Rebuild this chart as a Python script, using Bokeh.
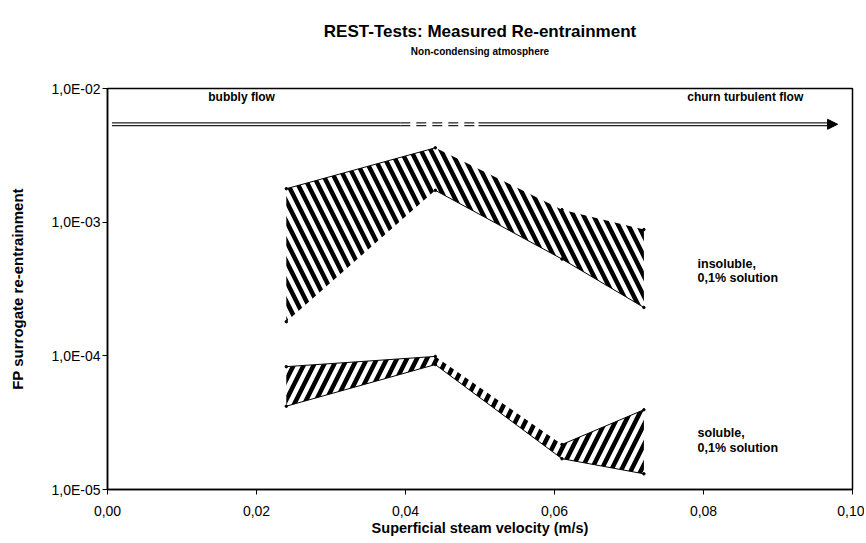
from bokeh.plotting import figure
from bokeh.models import FixedTicker, Label, Arrow, NormalHead, Title
from bokeh.embed import file_html
from bokeh.resources import INLINE

# ---- data ----
velocity = [0.024, 0.044, 0.061, 0.072]
insoluble_high = [1.78e-3, 3.6e-3, 1.24e-3, 8.8e-4]
insoluble_low = [1.8e-4, 1.73e-3, 5.3e-4, 2.3e-4]
soluble_high = [8.3e-5, 9.9e-5, 2.17e-5, 3.95e-5]
soluble_low = [4.2e-5, 8.6e-5, 1.70e-5, 1.31e-5]

x_ticks = [0.0, 0.02, 0.04, 0.06, 0.08, 0.10]
x_tick_labels = ["0,00", "0,02", "0,04", "0,06", "0,08", "0,10"]
y_ticks = [1e-5, 1e-4, 1e-3, 1e-2]
y_tick_labels = ["1,0E-05", "1,0E-04", "1,0E-03", "1,0E-02"]

title_text = "REST-Tests: Measured Re-entrainment"
subtitle_text = "Non-condensing atmosphere"

regime_arrow_y = 5.4e-3
regime_arrow_start = 0.0006
regime_arrow_dash_start = 0.0393
regime_arrow_dash_end = 0.0498
regime_arrow_end = 0.0975
regime_labels = ["bubbly flow", "churn turbulent flow"]
regime_label_x = [0.018, 0.0856]
regime_label_y = 8.6e-3

series_label_x = 0.0792
insoluble_label = ["insoluble,", "0,1% solution"]
insoluble_label_y = [4.9e-4, 3.8e-4]
soluble_label = ["soluble,", "0,1% solution"]
soluble_label_y = [2.63e-5, 2.03e-5]

FONT = "Liberation Sans"
W, H = 864, 541
LEFT, RIGHT, TOP, BOTTOM = 107, 12, 88, 52

p = figure(width=W, height=H, x_range=(0, 0.1), y_range=(1e-5, 1e-2),
           y_axis_type="log", output_backend="svg", toolbar_location=None,
           min_border_left=LEFT, min_border_right=RIGHT, min_border_top=TOP,
           min_border_bottom=BOTTOM, background_fill_color="white",
           border_fill_color="white")
p.outline_line_color = "black"
p.outline_line_width = 1.5
p.grid.visible = False

# titles: spacer panel nearest the frame, then subtitle, then main title
p.add_layout(Title(text=" ", text_font=FONT, text_font_size="10px", standoff=19), "above")
p.add_layout(Title(text=subtitle_text, align="center", text_font=FONT,
                   text_font_size="10px", text_font_style="bold",
                   text_color="black", standoff=0), "above")
p.add_layout(Title(text=title_text, align="center", text_font=FONT,
                   text_font_size="17px", text_font_style="bold",
                   text_color="black", standoff=6), "above")

# axes
xa = p.xaxis[0]
xa.ticker = FixedTicker(ticks=x_ticks)
xa.major_label_overrides = dict(zip(x_ticks, x_tick_labels))
xa.axis_label = "Superficial steam velocity (m/s)"
ya = p.yaxis[0]
ya.ticker = FixedTicker(ticks=y_ticks)
ya.major_label_overrides = dict(zip(y_ticks, y_tick_labels))
ya.axis_label = "FP surrogate re-entrainment"
for ax in (xa, ya):
    ax.axis_line_color = "black"
    ax.axis_line_width = 1.5
    ax.major_tick_out = 5
    ax.major_tick_in = 0
    ax.major_tick_line_color = "black"
    ax.minor_tick_line_color = None
    ax.major_label_text_font = FONT
    ax.major_label_text_font_size = "14px"
    ax.major_label_text_color = "black"
    ax.axis_label_text_font = FONT
    ax.axis_label_text_font_style = "bold"
    ax.axis_label_text_color = "black"
xa.axis_label_text_font_size = "14.5px"
ya.axis_label_text_font_size = "15px"
xa.major_label_standoff = 11
xa.axis_label_standoff = 1
ya.major_label_standoff = 2
ya.axis_label_standoff = 22

# hatched bands
p.varea(x=velocity, y1=insoluble_low, y2=insoluble_high, fill_color=None,
        hatch_pattern="left_diagonal_line", hatch_color="black",
        hatch_scale=20, hatch_weight=4.5)
p.varea(x=velocity, y1=soluble_low, y2=soluble_high, fill_color=None,
        hatch_pattern="right_diagonal_line", hatch_color="black",
        hatch_scale=20, hatch_weight=4.5)

# band edges
p.line(velocity[:2], insoluble_high[:2], line_color="black", line_width=1)
p.line(velocity[1:], insoluble_low[1:], line_color="black", line_width=1)
p.line(velocity[:2], soluble_high[:2], line_color="black", line_width=1)
p.line(velocity[2:], soluble_high[2:], line_color="black", line_width=1)
p.line(velocity, soluble_low, line_color="black", line_width=1)
for ys in (insoluble_high, insoluble_low, soluble_high, soluble_low):
    p.scatter(velocity, ys, size=2.5, color="black")

# regime arrow (double line)
p.line([regime_arrow_start, regime_arrow_dash_start], [regime_arrow_y] * 2,
       line_color="#222222", line_width=4)
p.line([regime_arrow_dash_end, regime_arrow_end], [regime_arrow_y] * 2,
       line_color="#222222", line_width=4)
p.line([regime_arrow_dash_start, regime_arrow_dash_end], [regime_arrow_y] * 2,
       line_color="#222222", line_width=4, line_dash="10 6")
p.line([regime_arrow_start, regime_arrow_end], [regime_arrow_y] * 2,
       line_color="white", line_width=1.3)
p.add_layout(Arrow(end=NormalHead(size=10, fill_color="black", line_color="black"),
                   x_start=regime_arrow_end - 0.001, y_start=regime_arrow_y,
                   x_end=regime_arrow_end + 0.0005, y_end=regime_arrow_y,
                   line_alpha=0))

for t, x in zip(regime_labels, regime_label_x):
    p.add_layout(Label(x=x, y=regime_label_y, text=t, text_align="center",
                       text_baseline="middle", text_font=FONT, text_color="black",
                       text_font_size="12px", text_font_style="bold"))
for t, y in zip(insoluble_label, insoluble_label_y):
    p.add_layout(Label(x=series_label_x, y=y, text=t, text_baseline="middle",
                       text_font=FONT, text_font_size="12.5px", text_font_style="bold",
                       text_color="black"))
for t, y in zip(soluble_label, soluble_label_y):
    p.add_layout(Label(x=series_label_x, y=y, text=t, text_baseline="middle",
                       text_font=FONT, text_font_size="12.5px", text_font_style="bold",
                       text_color="black"))

open("out.html", "w").write(file_html(p, INLINE))
